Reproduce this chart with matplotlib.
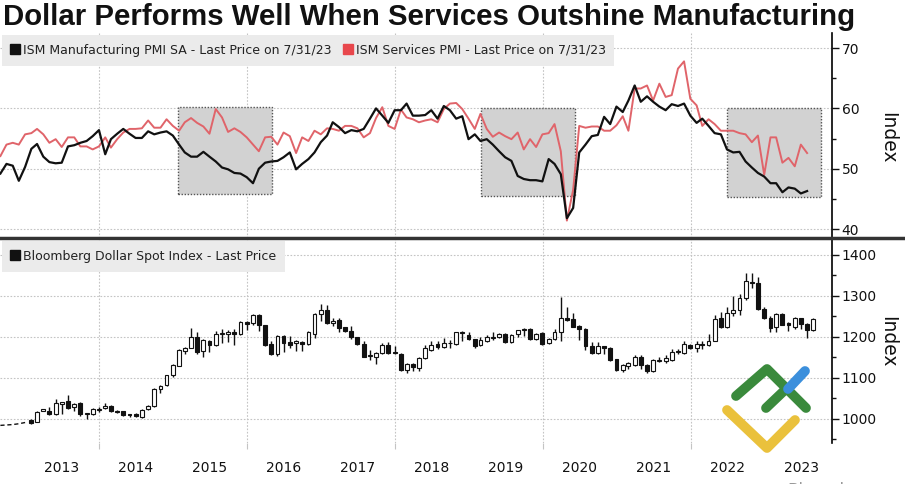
import matplotlib
matplotlib.use("Agg")
import matplotlib.pyplot as plt
import matplotlib.dates as mdates
from matplotlib.patches import Rectangle
from matplotlib.lines import Line2D
import numpy as np
import pandas as pd

# ---- data (monthly) ----
pmi_dates = pd.date_range("2012-08-31", periods=132, freq="ME")

ism_manufacturing = [
    49.2, 50.8, 50.5, 48.0, 50.3,
    53.3, 54.1, 52.0, 51.1, 50.9, 51.0, 53.7, 53.9, 54.3, 54.6, 55.4, 56.4,
    52.4, 54.9, 55.8, 56.6, 55.8, 55.1, 55.1, 56.2, 55.7, 56.0, 56.2, 55.5,
    54.0, 52.7, 52.0, 52.0, 52.8, 52.0, 51.2, 50.2, 49.9, 49.3, 49.2, 48.6,
    47.6, 50.0, 51.0, 51.2, 51.3, 51.9, 52.7, 49.9, 50.8, 51.6, 52.7, 54.4,
    55.5, 57.7, 56.9, 55.9, 56.4, 56.2, 56.6, 58.3, 60.0, 58.8, 57.6, 59.7,
    59.7, 60.8, 58.8, 58.8, 58.9, 59.7, 58.3, 60.4, 59.7, 58.3, 58.7, 54.9,
    55.7, 54.6, 54.9, 54.0, 52.9, 51.9, 51.3, 48.8, 48.3, 48.1, 48.1, 47.9,
    51.6, 50.8, 49.1, 41.8, 43.5, 52.7, 54.0, 55.4, 55.6, 58.6, 57.4, 60.3,
    59.4, 61.3, 63.8, 61.1, 62.0, 61.1, 60.3, 59.7, 60.7, 60.4, 60.8, 58.8,
    57.6, 58.3, 57.1, 55.9, 55.7, 53.2, 52.7, 52.8, 51.2, 50.2, 49.3, 48.7,
    47.6, 47.6, 46.1, 46.9, 46.7, 45.9, 46.3,
]

ism_services = [
    52.1, 54.0, 54.3, 54.0, 55.7,
    55.9, 56.6, 55.7, 54.3, 54.9, 53.6, 55.2, 55.2, 53.7, 53.7, 53.2, 53.7,
    55.2, 53.5, 54.9, 56.0, 56.6, 56.6, 56.7, 58.0, 56.8, 56.8, 58.2, 57.1,
    56.3, 57.7, 58.4, 57.6, 57.0, 55.8, 59.9, 58.5, 56.1, 56.7, 56.1, 55.2,
    54.0, 52.9, 55.2, 55.3, 54.0, 56.0, 55.4, 52.6, 55.2, 54.6, 56.3, 55.7,
    56.7, 56.6, 56.3, 57.1, 57.1, 56.7, 55.2, 55.9, 58.4, 60.2, 57.1, 56.6,
    59.8, 58.5, 58.2, 57.7, 58.0, 58.2, 57.7, 59.9, 60.8, 60.9, 59.9, 58.3,
    56.6, 59.1, 56.6, 55.3, 56.0, 55.4, 54.9, 56.0, 53.2, 54.9, 53.6, 55.7,
    55.9, 57.4, 52.9, 41.4, 46.5, 57.1, 56.8, 57.0, 57.0, 56.3, 56.3, 57.2,
    58.7, 56.3, 63.3, 63.3, 63.8, 61.3, 64.1, 61.9, 62.2, 66.6, 67.8, 61.6,
    60.5, 57.1, 58.2, 57.4, 56.3, 56.3, 56.3, 55.9, 55.7, 54.4, 55.5, 49.0,
    55.2, 55.2, 51.0, 51.8, 50.4, 54.0, 52.6,
]

# highlighted periods: start, end, low, high
box_start = ["2015-01-26", "2019-03-03", "2022-07-01"]
box_end = ["2016-05-04", "2020-06-07", "2023-10-08"]
box_low = [45.8, 45.5, 45.3]
box_high = [60.2, 60.0, 60.0]

# Bloomberg Dollar Spot Index, line before the candles
dxy_line_dates = pd.date_range("2012-08-31", periods=5, freq="ME")
dxy_line = [984, 985, 986, 988, 991]

# monthly candles Jan 2013 - Aug 2023
candle_dates = pd.date_range("2013-01-31", periods=128, freq="ME")
dxy_open = [
    997, 993, 1020, 1019, 1011, 1036, 1043, 1030, 1038, 1013, 1012, 1022,
    1027, 1032, 1020, 1018, 1011, 1013, 1004, 1023, 1031, 1073, 1083, 1107,
    1130, 1166, 1174, 1200, 1166, 1190, 1180, 1207, 1207, 1213, 1207, 1237,
    1233, 1253, 1229, 1182, 1158, 1201, 1187, 1184, 1188, 1182, 1207, 1255,
    1266, 1233, 1241, 1223, 1215, 1199, 1182, 1153, 1152, 1160, 1180, 1164,
    1158, 1118, 1135, 1124, 1148, 1168, 1182, 1176, 1184, 1182, 1212, 1205,
    1194, 1181, 1189, 1198, 1199, 1207, 1187, 1207, 1218, 1219, 1195, 1209,
    1184, 1195, 1211, 1246, 1243, 1227, 1220, 1178, 1160, 1177, 1174, 1145,
    1118, 1130, 1131, 1152, 1132, 1116, 1141, 1140, 1144, 1166, 1160, 1181,
    1172, 1183, 1181, 1190, 1246, 1225, 1258, 1265, 1294, 1335, 1332, 1268,
    1247, 1225, 1255, 1234, 1225, 1245, 1231, 1216,
]
dxy_high = [
    999, 1018, 1025, 1028, 1048, 1041, 1058, 1038, 1040, 1015, 1026, 1030,
    1038, 1033, 1022, 1020, 1013, 1015, 1023, 1034, 1075, 1082, 1108, 1133,
    1170, 1176, 1221, 1212, 1194, 1192, 1214, 1219, 1216, 1220, 1238, 1238,
    1256, 1255, 1230, 1190, 1204, 1204, 1203, 1193, 1190, 1215, 1259, 1280,
    1277, 1246, 1245, 1225, 1227, 1200, 1190, 1167, 1164, 1184, 1187, 1177,
    1160, 1137, 1137, 1150, 1180, 1190, 1190, 1197, 1193, 1212, 1215, 1213,
    1196, 1200, 1205, 1211, 1210, 1209, 1208, 1218, 1222, 1221, 1210, 1211,
    1197, 1219, 1298, 1273, 1258, 1229, 1222, 1187, 1188, 1178, 1176, 1147,
    1133, 1138, 1155, 1155, 1135, 1146, 1151, 1156, 1170, 1170, 1190, 1183,
    1190, 1190, 1206, 1254, 1260, 1272, 1300, 1304, 1357, 1356, 1346, 1272,
    1250, 1259, 1259, 1236, 1249, 1247, 1233, 1245,
]
dxy_low = [
    988, 992, 1018, 1010, 1009, 1011, 1025, 1020, 1006, 1000, 1010, 1016,
    1024, 1017, 1014, 1008, 1005, 1004, 1003, 1021, 1030, 1062, 1080, 1103,
    1128, 1158, 1172, 1158, 1150, 1162, 1178, 1184, 1188, 1180, 1205, 1217,
    1230, 1215, 1178, 1156, 1154, 1164, 1174, 1165, 1166, 1180, 1197, 1239,
    1232, 1227, 1212, 1212, 1196, 1180, 1150, 1143, 1134, 1158, 1158, 1158,
    1116, 1113, 1116, 1116, 1146, 1166, 1170, 1174, 1173, 1180, 1190, 1192,
    1173, 1178, 1187, 1192, 1197, 1185, 1185, 1199, 1203, 1193, 1192, 1180,
    1182, 1193, 1190, 1240, 1224, 1193, 1168, 1158, 1158, 1159, 1140, 1117,
    1115, 1122, 1129, 1122, 1113, 1114, 1138, 1137, 1140, 1159, 1158, 1170,
    1164, 1170, 1179, 1189, 1222, 1222, 1252, 1254, 1290, 1320, 1265, 1244,
    1213, 1213, 1228, 1215, 1219, 1219, 1197, 1215,
]
dxy_close = [
    990, 1016, 1023, 1012, 1038, 1040, 1027, 1036, 1012, 1014, 1024, 1023,
    1032, 1019, 1016, 1010, 1009, 1006, 1022, 1031, 1073, 1081, 1107, 1132,
    1168, 1173, 1200, 1164, 1192, 1180, 1208, 1209, 1213, 1208, 1237, 1231,
    1253, 1230, 1181, 1158, 1203, 1184, 1180, 1190, 1183, 1211, 1257, 1266,
    1234, 1239, 1221, 1215, 1199, 1182, 1152, 1155, 1160, 1180, 1161, 1160,
    1119, 1135, 1126, 1148, 1172, 1180, 1175, 1184, 1186, 1211, 1209, 1194,
    1178, 1193, 1199, 1200, 1207, 1187, 1205, 1216, 1220, 1195, 1208, 1182,
    1195, 1211, 1246, 1241, 1225, 1219, 1178, 1160, 1177, 1173, 1143, 1119,
    1131, 1136, 1152, 1132, 1116, 1143, 1143, 1148, 1164, 1162, 1182, 1172,
    1182, 1181, 1190, 1243, 1225, 1259, 1265, 1294, 1336, 1332, 1268, 1246,
    1221, 1255, 1230, 1229, 1246, 1231, 1216, 1243,
]

title = "Dollar Performs Well When Services Outshine Manufacturing"

# ---- figure ----
W, H = 905, 484
fig = plt.figure(figsize=(W / 100, H / 100), dpi=100)
plt.rcParams['font.family'] = ['DejaVu Sans']

ax1 = fig.add_axes([0, 1 - 237.5 / H, 832 / W, (237.5 - 33) / H])
ax2 = fig.add_axes([0, 1 - 443 / H, 832 / W, (443 - 239) / H])

xmin, xmax = pd.Timestamp("2012-08-29"), pd.Timestamp("2023-12-01")
grid_kw = dict(color="#c4c4c4", lw=0.8, ls=(0, (1.5, 1.5)))

for ax in (ax1, ax2):
    ax.set_xlim(xmin, xmax)
    for s in ("top", "left", "bottom"):
        ax.spines[s].set_visible(False)
    ax.spines["right"].set_linewidth(1.2)
    ax.yaxis.tick_right()
    ax.tick_params(axis="y", which="major", length=5, width=1, labelsize=10,
                   pad=2, colors="#111")
    ax.tick_params(axis="y", which="minor", length=3, width=1, colors="#111")
    ax.xaxis.set_major_locator(mdates.YearLocator(2))
    ax.xaxis.set_minor_locator(mdates.MonthLocator(bymonth=7, bymonthday=1))
    ax.tick_params(axis="x", which="major", length=4, color="#c4c4c4",
                   labelbottom=False)
    ax.tick_params(axis="x", which="minor", length=0, labelbottom=False)
    ax.grid(True, which="major", **grid_kw)
    ax.set_axisbelow(True)

leg_kw = dict(loc="upper left", bbox_to_anchor=(0.0025, 0.99), fontsize=9.0,
              frameon=True, fancybox=False, facecolor="#ebebeb",
              edgecolor="none", framealpha=1, handlelength=0.7,
              handletextpad=0.25, borderpad=0.7, borderaxespad=0)

# ---- top panel: ISM ----
ax1.set_ylim(38.6, 72.5)
ax1.set_yticks([40, 50, 60, 70])
ax1.set_yticks([45, 55, 65], minor=True)

for s, e, lo, hi in zip(box_start, box_end, box_low, box_high):
    x0 = mdates.date2num(pd.Timestamp(s))
    x1 = mdates.date2num(pd.Timestamp(e))
    ax1.add_patch(Rectangle((x0, lo), x1 - x0, hi - lo, facecolor="#d2d2d2",
                            edgecolor="#555555", ls=(0, (1, 1.2)), lw=1.0,
                            zorder=1))

ax1.plot(pmi_dates, ism_services, color="#e0646a", lw=1.4, zorder=3)
ax1.plot(pmi_dates, ism_manufacturing, color="#111111", lw=1.6, zorder=4)

h1 = [Line2D([], [], marker="s", color="#111", ls="none", markersize=7),
      Line2D([], [], marker="s", color="#e8474c", ls="none", markersize=7)]
leg1 = ax1.legend(h1, ["ISM Manufacturing PMI SA - Last Price on 7/31/23",
                       "ISM Services PMI - Last Price on 7/31/23"],
                  ncol=2, columnspacing=1.0, **leg_kw)
for t in leg1.get_texts():
    t.set_color("#222")
ax1.text(1.067, 0.49, "Index", transform=ax1.transAxes, rotation=270,
         fontsize=13.5, ha="center", va="center", color="#111")

# ---- bottom panel: dollar index candles ----
ax2.set_ylim(941, 1439)
ax2.set_yticks([1000, 1100, 1200, 1300, 1400])
ax2.set_yticks([950, 1050, 1150, 1250, 1350], minor=True)

ax2.plot(dxy_line_dates, dxy_line, color="#111", lw=1.0, ls=(0, (3, 2)))

o = np.array(dxy_open, float)
c = np.array(dxy_close, float)
hi_ = np.array(dxy_high, float)
lo_ = np.array(dxy_low, float)
up = c >= o
ax2.vlines(candle_dates, lo_, hi_, color="#111", lw=1.0, zorder=2)
body_h = np.maximum(np.abs(c - o), 1.5)
ax2.bar(candle_dates, body_h, bottom=np.minimum(o, c), width=19,
        color=np.where(up, "white", "#111"), edgecolor="#111", lw=0.8,
        zorder=3)

h2 = [Line2D([], [], marker="s", color="#111", ls="none", markersize=7)]
leg2 = ax2.legend(h2, ["Bloomberg Dollar Spot Index - Last Price"], **leg_kw)
for t in leg2.get_texts():
    t.set_color("#222")
ax2.text(1.067, 0.495, "Index", transform=ax2.transAxes, rotation=270,
         fontsize=13.5, ha="center", va="center", color="#111")

ax2.xaxis.set_minor_formatter(mdates.DateFormatter("%Y"))
ax2.tick_params(axis="x", which="minor", labelbottom=True, labelsize=10,
                pad=13, colors="#111")

# divider between panels
fig.add_artist(Line2D([0, 1], [1 - 238 / H, 1 - 238 / H], color="#333",
                      lw=2.5, transform=fig.transFigure))

# title
fig.text(3 / W, 1 - 3 / H, title, fontsize=21.2, weight="bold", va="top",
         ha="left", family=["Liberation Sans", "DejaVu Sans"], color="#111")

# watermark logo (decoration)
def px(pts):
    return [p[0] / W for p in pts], [1 - p[1] / H for p in pts]

for pts, col in [
    ([(727, 410), (767, 448), (795, 420)], "#eac13c"),
    ([(736, 396), (767, 369), (806, 408)], "#3a8a3c"),
    ([(766, 408), (787, 388)], "#3a8a3c"),
    ([(788, 389), (805, 371)], "#3b8fdc"),
]:
    xs, ys = px(pts)
    fig.add_artist(Line2D(xs, ys, color=col, lw=7, solid_capstyle="round",
                          solid_joinstyle="round", transform=fig.transFigure))

fig.text(787 / W, 1 - 491 / H, "Bloomberg", fontsize=12, color="#999",
         va="center", ha="left")

fig.savefig("out.png", dpi=100)
